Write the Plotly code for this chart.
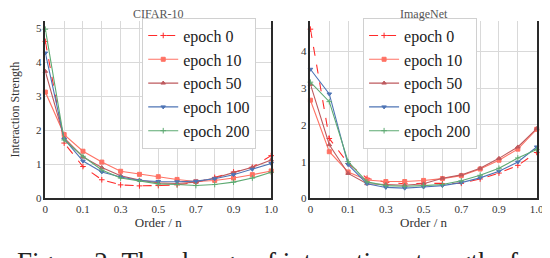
import plotly.graph_objects as go

order_labels = ["0", "0.05", "0.1", "0.2", "0.3", "0.4", "0.5", "0.6", "0.7", "0.8", "0.9", "0.95", "1.0"]
tick_text = ["0", "", "0.1", "", "0.3", "", "0.5", "", "0.7", "", "0.9", "", "1.0"]
series_names = ["epoch 0", "epoch 10", "epoch 50", "epoch 100", "epoch 200"]

cifar_epoch0 = [4.62, 1.63, 0.94, 0.55, 0.40, 0.37, 0.38, 0.40, 0.47, 0.62, 0.78, 0.92, 1.26]
cifar_epoch10 = [3.13, 1.88, 1.39, 1.07, 0.80, 0.71, 0.64, 0.56, 0.50, 0.53, 0.60, 0.70, 0.81]
cifar_epoch50 = [3.74, 1.78, 1.22, 0.91, 0.67, 0.54, 0.46, 0.44, 0.48, 0.60, 0.76, 0.92, 1.13]
cifar_epoch100 = [4.28, 1.75, 1.10, 0.78, 0.63, 0.53, 0.50, 0.49, 0.51, 0.58, 0.70, 0.86, 1.03]
cifar_epoch200 = [4.98, 1.72, 1.24, 0.84, 0.60, 0.52, 0.43, 0.41, 0.38, 0.41, 0.48, 0.60, 0.77]

imnet_epoch0 = [4.60, 1.63, 0.95, 0.55, 0.44, 0.40, 0.41, 0.40, 0.41, 0.53, 0.69, 0.90, 1.25]
imnet_epoch10 = [2.67, 1.27, 0.72, 0.50, 0.46, 0.46, 0.49, 0.54, 0.62, 0.80, 1.04, 1.34, 1.88]
imnet_epoch50 = [3.10, 1.46, 0.68, 0.40, 0.38, 0.36, 0.40, 0.55, 0.64, 0.82, 1.09, 1.40, 1.90]
imnet_epoch100 = [3.51, 2.84, 0.92, 0.40, 0.30, 0.28, 0.31, 0.35, 0.43, 0.56, 0.74, 0.99, 1.40]
imnet_epoch200 = [3.16, 2.63, 1.00, 0.45, 0.35, 0.33, 0.35, 0.38, 0.48, 0.63, 0.82, 1.10, 1.33]

cifar = [cifar_epoch0, cifar_epoch10, cifar_epoch50, cifar_epoch100, cifar_epoch200]
imnet = [imnet_epoch0, imnet_epoch10, imnet_epoch50, imnet_epoch100, imnet_epoch200]

colors = ["#FF2A2A", "#FF7264", "#BE5A5E", "#4E74B5", "#5DAA72"]
dashes = ["dash", "solid", "solid", "solid", "solid"]
symbols = ["cross-thin", "square", "triangle-up", "triangle-down", "cross-thin"]

xpos = list(range(len(order_labels)))
FONT = "Times New Roman, Liberation Serif, serif"

fig = go.Figure()
for panel, (data, xa, ya, lg) in enumerate([(cifar, "x", "y", "legend"), (imnet, "x2", "y2", "legend2")]):
    for i, name in enumerate(series_names):
        fig.add_trace(go.Scatter(
            x=xpos, y=data[i], name=name, mode="lines+markers",
            xaxis=xa, yaxis=ya, legend=lg, cliponaxis=False,
            line=dict(color=colors[i], width=1.1, dash=dashes[i]),
            marker=dict(symbol=symbols[i], size=4, color=colors[i],
                        line=dict(color=colors[i], width=1)),
        ))

axis_common = dict(showgrid=True, gridcolor="#d9d9d9", gridwidth=1, zeroline=False,
                   showline=True, linecolor="#2a2a2a", linewidth=1.5, ticks="",
                   tickfont=dict(family=FONT, size=11, color="#333"))

legend_common = dict(xanchor="left", yanchor="top", bgcolor="white", bordercolor="#d0d0d0",
                     borderwidth=1, font=dict(family=FONT, size=16, color="#222"))

fig.update_layout(
    width=550, height=258,
    margin=dict(l=0, r=0, t=0, b=0),
    paper_bgcolor="white", plot_bgcolor="white",
    font=dict(family=FONT, color="#222"),
    xaxis=dict(domain=[0.0636, 0.4818], range=[0, 12], tickmode="array", tickvals=xpos,
               ticktext=tick_text, anchor="y",
               title=dict(text="Order / n", font=dict(family=FONT, size=13, color="#333"), standoff=2),
               **axis_common),
    yaxis=dict(domain=[0.2442, 0.9496], range=[0, 5.23], tickvals=[0, 1, 2, 3, 4, 5], mirror=True,
               anchor="x",
               title=dict(text="Interaction Strength", font=dict(family=FONT, size=12, color="#333"), standoff=14),
               **axis_common),
    xaxis2=dict(domain=[0.5545, 0.9735], range=[0, 12], tickmode="array", tickvals=xpos,
                ticktext=tick_text, anchor="y2",
                title=dict(text="Order / n", font=dict(family=FONT, size=13, color="#333"), standoff=2),
                **axis_common),
    yaxis2=dict(domain=[0.2442, 0.9496], range=[0, 4.83], tickvals=[0, 1, 2, 3, 4], mirror=True,
                anchor="x2", **axis_common),
    legend=dict(x=0.243, y=0.962, **legend_common),
    legend2=dict(x=0.652, y=0.962, **legend_common),
    showlegend=True,
    annotations=[
        dict(text="CIFAR-10", x=(0.0636 + 0.4818) / 2, y=1.01, xref="paper", yref="paper",
             xanchor="center", yanchor="top", showarrow=False,
             font=dict(family=FONT, size=12, color="#555")),
        dict(text="ImageNet", x=(0.5545 + 0.9735) / 2, y=1.01, xref="paper", yref="paper",
             xanchor="center", yanchor="top", showarrow=False,
             font=dict(family=FONT, size=12, color="#555")),
        dict(text="Figure 2: The change of interaction strengths for", x=0.008, y=0.058,
             xref="paper", yref="paper", xanchor="left", yanchor="top", showarrow=False,
             font=dict(family=FONT, size=27, color="#222")),
    ],
)

fig.write_html("out.html")
